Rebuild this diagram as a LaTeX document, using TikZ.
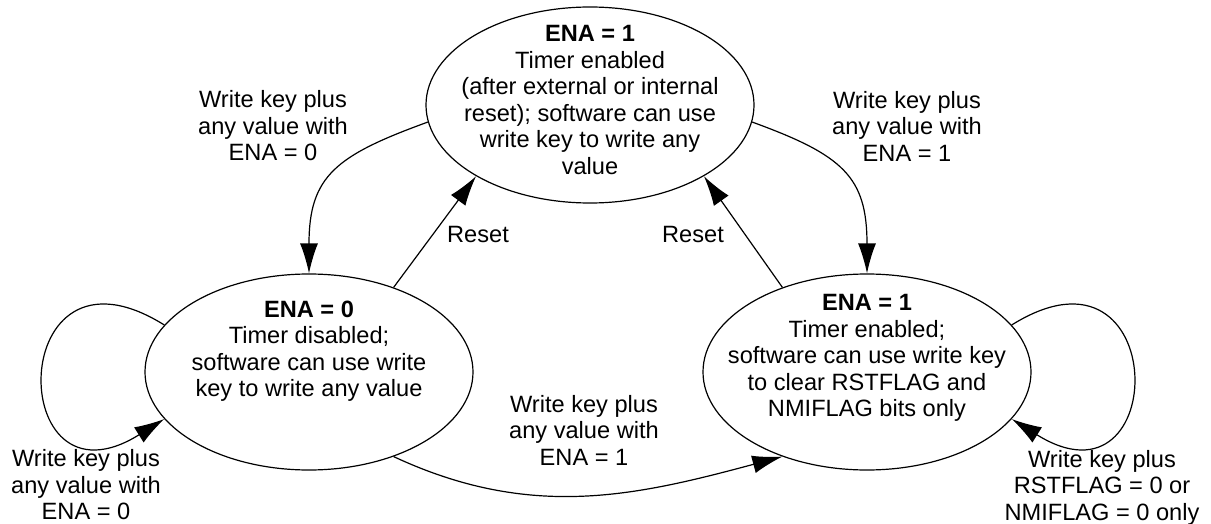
\documentclass[tikz,border=0pt]{standalone}
\usepackage{fontspec}
\setmainfont{Liberation Sans}
\usetikzlibrary{shapes.geometric,arrows.meta}
\tikzset{
    state-ellipse/.style = {draw, ellipse, line width=0.6pt, minimum width=164pt, minimum height=98pt, inner sep=0pt},
    state-text/.style = {align=center, inner sep=0pt, font=\fontsize{11.8}{13.25}\selectfont},
    edge-arrow/.style = {line width=0.6pt, -{Latex[length=15pt,width=9pt]}},
}

\begin{document}
\begin{tikzpicture}[x=0.5pt, y=-0.5pt]
\useasboundingbox (0,0) rectangle (1211,524);

\node [state-ellipse] (ena-reset) at (590,105) {};
\node [state-ellipse] (ena-off) at (309,372) {};
\node [state-ellipse] (ena-on) at (867,372) {};

\node [state-text] (ena-reset-text) at (590,100) {\textbf{ENA = 1}\\ Timer enabled\\ (after external or internal\\ reset); software can use\\ write key to write any\\ value};
\node [state-text] (ena-off-text) at (309,351) {\textbf{ENA = 0}\\ Timer disabled;\\ software can use write\\ key to write any value};
\node [state-text] (ena-on-text) at (867,358) {\textbf{ENA = 1}\\ Timer enabled;\\ software can use write key\\ to clear RSTFLAG and\\ NMIFLAG bits only};

\draw [edge-arrow] (ena-reset.186) to[out=200, in=90, looseness=1.3] (ena-off.north);
\draw [edge-arrow] (ena-reset.354) to[out=-20, in=90, looseness=1.3] (ena-on.north);
\draw [edge-arrow] (ena-off.45) -- (ena-reset.212);
\draw [edge-arrow] (ena-on.135) -- (ena-reset.328);
\draw [edge-arrow] (ena-off.-45) to[out=-25, in=195] (ena-on.225);
\draw [edge-arrow] (ena-off.162) .. controls +(-160,-100) and +(-160,100) .. (ena-off.198);
\draw [edge-arrow] (ena-on.18) .. controls +(160,-100) and +(160,100) .. (ena-on.-18);

\node [state-text] (lbl-to-off) at (273,126) {Write key plus\\ any value with\\ ENA = 0};
\node [state-text] (lbl-to-on) at (907,126) {Write key plus\\ any value with\\ ENA = 1};
\node [state-text] (lbl-reset-off) at (478,234.5) {Reset};
\node [state-text] (lbl-reset-on) at (693,234.5) {Reset};
\node [state-text] (lbl-off-on) at (584,430) {Write key plus\\ any value with\\ ENA = 1};
\node [state-text] (lbl-off-loop) at (86,485) {Write key plus\\ any value with\\ ENA = 0};
\node [state-text] (lbl-on-loop) at (1102,487.5) {Write key plus\\ RSTFLAG = 0 or\\ NMIFLAG = 0 only};
\end{tikzpicture}
\end{document}
